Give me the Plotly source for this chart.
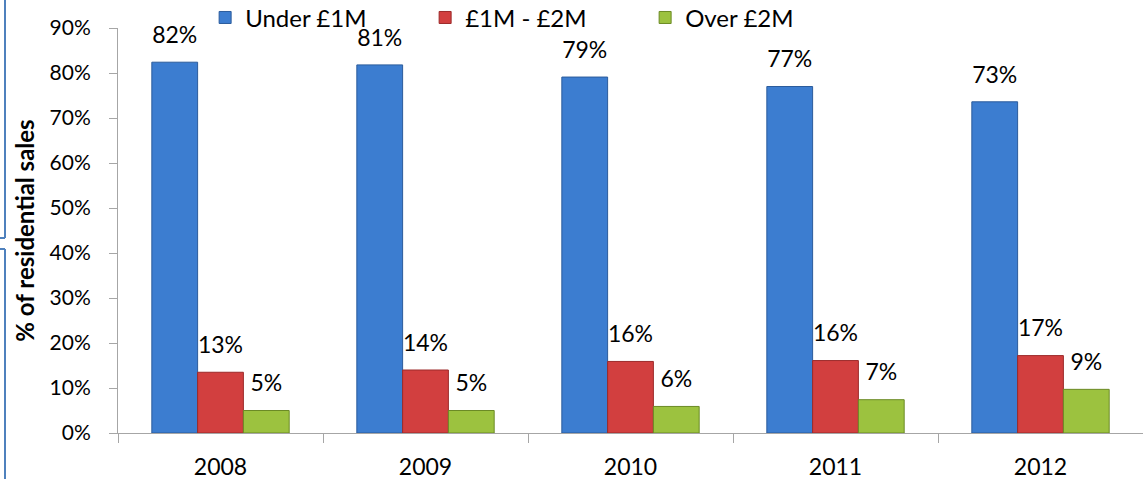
import plotly.graph_objects as go

years = ["2008", "2009", "2010", "2011", "2012"]

under_1m = [82.4, 81.8, 79.1, 77.0, 73.6]
mid_1m_2m = [13.5, 14.0, 15.9, 16.1, 17.2]
over_2m = [5.0, 5.0, 5.9, 7.4, 9.7]

under_1m_labels = ["82%", "81%", "79%", "77%", "73%"]
mid_1m_2m_labels = ["13%", "14%", "16%", "16%", "17%"]
over_2m_labels = ["5%", "5%", "6%", "7%", "9%"]

series = [
    ("Under £1M", under_1m, under_1m_labels, "#3C7DD0", "#2B5C9C"),
    ("£1M - £2M", mid_1m_2m, mid_1m_2m_labels, "#D23F3F", "#9C2A2A"),
    ("Over £2M", over_2m, over_2m_labels, "#9CC23F", "#6B8A25"),
]

FONT = "Lato"
GAP = 0.33

fig = go.Figure()

for i, (name, vals, labels, face, edge) in enumerate(series):
    fig.add_trace(
        go.Bar(
            x=years,
            y=vals,
            name=name,
            offsetgroup=str(i),
            marker=dict(color=face, line=dict(color=edge, width=1)),
            hoverinfo="skip",
        )
    )

# data labels sit a bit above the bar tops, like the original
for i, (name, vals, labels, face, edge) in enumerate(series):
    fig.add_trace(
        go.Scatter(
            x=years,
            y=vals,
            mode="markers+text",
            text=labels,
            textposition="top center",
            textfont=dict(family=FONT, size=23, color="#000000"),
            marker=dict(size=20, opacity=0),
            offsetgroup=str(i),
            showlegend=False,
            hoverinfo="skip",
            cliponaxis=False,
        )
    )

fig.update_layout(
    width=1143,
    height=479,
    margin=dict(l=118, r=0, t=28, b=46, autoexpand=False),
    paper_bgcolor="white",
    plot_bgcolor="white",
    barmode="group",
    bargap=GAP,
    bargroupgap=0,
    scattermode="group",
    scattergap=GAP,
    font=dict(family=FONT, size=21, color="#000000"),
    showlegend=True,
    legend=dict(
        orientation="h",
        x=0.085,
        xanchor="left",
        y=1.025,
        yanchor="middle",
        font=dict(family=FONT, size=24),
        entrywidth=175,
        entrywidthmode="pixels",
        bgcolor="rgba(0,0,0,0)",
    ),
)

fig.update_xaxes(
    type="category",
    range=[-0.5, 4.5],
    tickson="boundaries",
    ticks="outside",
    ticklen=9,
    tickcolor="#A6A6A6",
    showline=True,
    linecolor="#A6A6A6",
    linewidth=1,
    showgrid=False,
    automargin=False,
    ticklabelstandoff=13,
    tickfont=dict(family=FONT, size=23),
)

fig.update_yaxes(
    range=[0, 90],
    dtick=10,
    ticksuffix="%",
    ticks="outside",
    ticklen=8,
    tickcolor="#A6A6A6",
    showline=True,
    linecolor="#A6A6A6",
    linewidth=1,
    showgrid=False,
    zeroline=False,
    ticklabelstandoff=14,
    tickfont=dict(family=FONT, size=21),
    title=dict(
        text="<b>% of residential sales</b>",
        font=dict(family=FONT, size=24),
        standoff=8,
    ),
    automargin=False,
)

# cropped text-box borders at the left edge of the original image
px_x = (5 - 118) / 1025
for y0, y1 in [(1 + 28 / 405, 1 - (238 - 28) / 405), (1 - (249 - 28) / 405, -46 / 405)]:
    fig.add_shape(type="line", xref="paper", yref="paper", x0=px_x, x1=px_x,
                  y0=y0, y1=y1, line=dict(color="#4F81BD", width=2))
for y in [1 - (238 - 28) / 405, 1 - (249 - 28) / 405]:
    fig.add_shape(type="line", xref="paper", yref="paper", x0=-118 / 1025, x1=px_x,
                  y0=y, y1=y, line=dict(color="#4F81BD", width=2))

# drop the default page margin so the figure fills the window
fig.write_html(
    "out.html",
    config={"displayModeBar": False},
    post_script="document.body.style.margin='0px';",
)
